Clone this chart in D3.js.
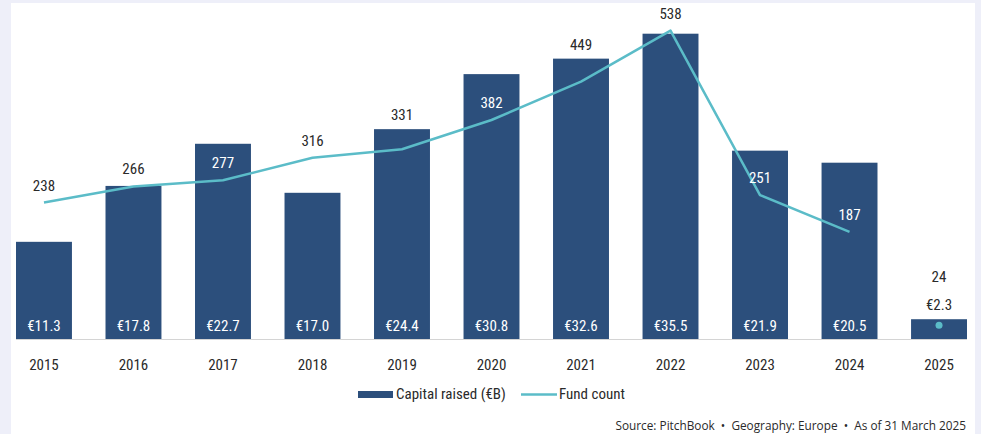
<!DOCTYPE html>
<html>
<head>
<meta charset="utf-8">
<script src="https://cdn.jsdelivr.net/npm/d3@7"></script>
<style>
  body { margin: 0; background: #eeeff9; }
  svg { display: block; }
  .cond { font-family: "Liberation Sans Narrow", "Roboto Condensed", "Arial Narrow", Roboto, sans-serif; }
</style>
</head>
<body>
<script>
// data
var years = ['2015','2016','2017','2018','2019','2020','2021','2022','2023','2024','2025'];
var capital = [11.3, 17.8, 22.7, 17.0, 24.4, 30.8, 32.6, 35.5, 21.9, 20.5, 2.3];
var fundCount = [238, 266, 277, 316, 331, 382, 449, 538, 251, 187, 24];
var sourceText = 'Source: PitchBook  \u2022  Geography: Europe  \u2022  As of 31 March 2025';

var W = 981, H = 434;
var barColor = '#2c4f7c', lineColor = '#5bbcc8', ink = '#2a2a2a';

var svg = d3.select('body').append('svg')
  .attr('width', W)
  .attr('height', H);

// white panel
svg.append('rect')
  .attr('x', 11).attr('y', 3)
  .attr('width', 964).attr('height', H - 3)
  .attr('fill', '#fff');

var base = 339;

var x = d3.scaleBand()
  .domain(years)
  .range([16, 967])
  .paddingInner(0.375)
  .paddingOuter(0);

var yCap = d3.scaleLinear().domain([0, 40]).range([base, -5]);
var yCnt = d3.scaleLinear().domain([0, 600]).range([base, -5]);

var data = years.map(function (d, i) {
  return { year: d, cap: capital[i], cnt: fundCount[i] };
});
var last = data.length - 1;
var cx = d => x(d.year) + x.bandwidth() / 2;

// bars
svg.append('g')
  .selectAll('rect')
  .data(data)
  .enter()
  .append('rect')
    .attr('x', d => x(d.year))
    .attr('y', d => yCap(d.cap))
    .attr('width', x.bandwidth())
    .attr('height', d => base - yCap(d.cap))
    .attr('fill', barColor);

// baseline
svg.append('line')
  .attr('x1', 16).attr('x2', 967)
  .attr('y1', base + 0.5).attr('y2', base + 0.5)
  .attr('stroke', '#d4d4d4')
  .attr('stroke-width', 1);

// x axis labels
svg.append('g')
  .attr('class', 'cond')
  .selectAll('text')
  .data(years)
  .enter()
  .append('text')
    .attr('x', d => x(d) + x.bandwidth() / 2)
    .attr('y', 370)
    .attr('text-anchor', 'middle')
    .attr('font-size', 15)
    .attr('fill', ink)
    .text(d => d);

// capital labels
svg.append('g')
  .attr('class', 'cond')
  .selectAll('text')
  .data(data)
  .enter()
  .append('text')
    .attr('x', cx)
    .attr('y', (d, i) => i == last ? yCap(d.cap) - 9 : 331)
    .attr('text-anchor', 'middle')
    .attr('font-size', 15)
    .attr('fill', (d, i) => i == last ? ink : '#fff')
    .text(d => '\u20ac' + d.cap.toFixed(1));

// fund count line (2015-2024), 2025 shown as a dot
var line = d3.line()
  .x(cx)
  .y(d => yCnt(d.cnt));

svg.append('path')
  .datum(data.slice(0, last))
  .attr('d', line)
  .attr('fill', 'none')
  .attr('stroke', lineColor)
  .attr('stroke-width', 2.5)
  .attr('stroke-linejoin', 'round');

svg.append('circle')
  .attr('cx', cx(data[last]))
  .attr('cy', yCnt(data[last].cnt))
  .attr('r', 3.5)
  .attr('fill', lineColor);

// fund count labels: above the point, or above the bar when they would cross its top
function labelY(d, i) {
  if (i == last) return yCap(d.cap) - 42;
  var c = yCnt(d.cnt) - 17;
  var top = yCap(d.cap);
  if (c > top - 9 && c < top + 10) c = top - 14;
  return c;
}

svg.append('g')
  .attr('class', 'cond')
  .selectAll('text')
  .data(data)
  .enter()
  .append('text')
    .attr('x', cx)
    .attr('y', (d, i) => labelY(d, i) + 5)
    .attr('text-anchor', 'middle')
    .attr('font-size', 15)
    .attr('fill', (d, i) => labelY(d, i) > yCap(d.cap) ? '#fff' : ink)
    .text(d => d.cnt);

// legend
var lg = svg.append('g').attr('class', 'cond');
lg.append('rect')
  .attr('x', 358).attr('y', 391)
  .attr('width', 35).attr('height', 7)
  .attr('fill', barColor);
lg.append('text')
  .attr('x', 396).attr('y', 399)
  .attr('font-size', 15)
  .attr('fill', ink)
  .text('Capital raised (\u20acB)');
lg.append('line')
  .attr('x1', 521).attr('x2', 557)
  .attr('y1', 394.5).attr('y2', 394.5)
  .attr('stroke', lineColor)
  .attr('stroke-width', 2.5);
lg.append('text')
  .attr('x', 559).attr('y', 399)
  .attr('font-size', 15)
  .attr('fill', ink)
  .text('Fund count');

// source
svg.append('text')
  .attr('x', 966).attr('y', 430)
  .attr('text-anchor', 'end')
  .attr('font-family', '"Open Sans", sans-serif')
  .attr('font-size', 11.8)
  .attr('fill', ink)
  .style('white-space', 'pre')
  .text(sourceText);
</script>
</body>
</html>
